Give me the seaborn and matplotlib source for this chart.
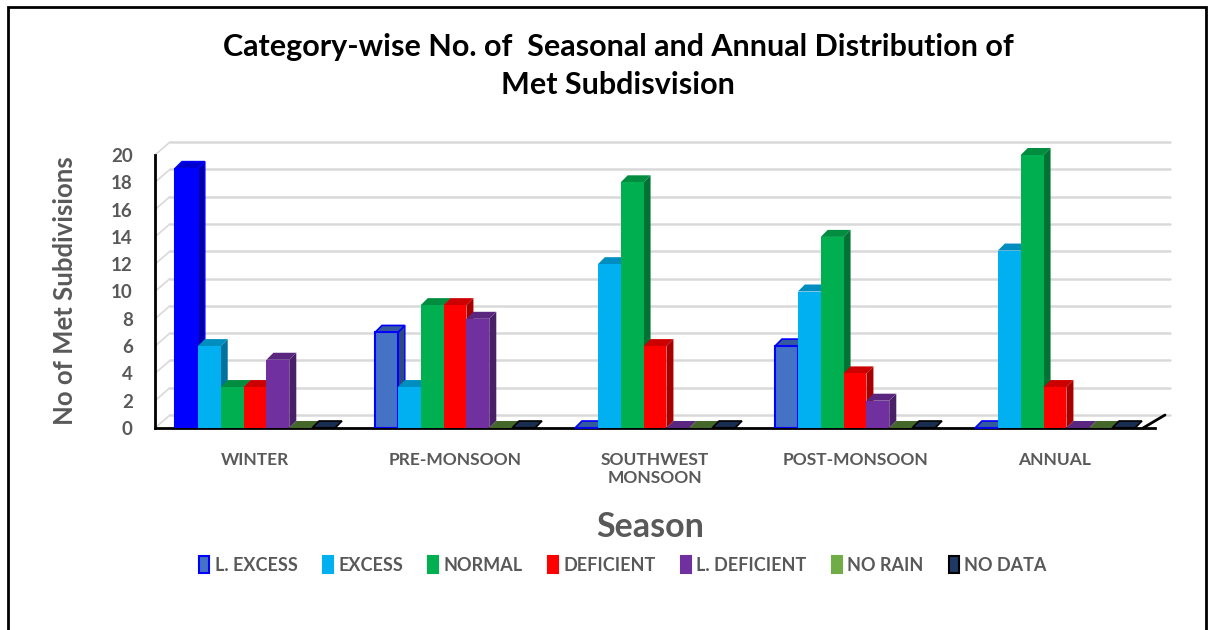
import numpy as np
import pandas as pd
import matplotlib
matplotlib.use("Agg")
import matplotlib.pyplot as plt
import matplotlib.transforms as mtransforms
from matplotlib.patches import Patch, Polygon, Rectangle
import seaborn as sns

# data
seasons = ["WINTER", "PRE-MONSOON", "SOUTHWEST\nMONSOON", "POST-MONSOON", "ANNUAL"]
categories = ["L. EXCESS", "EXCESS", "NORMAL", "DEFICIENT", "L. DEFICIENT", "NO RAIN", "NO DATA"]
l_excess = [19, 7, 0, 6, 0]
excess = [6, 3, 12, 10, 13]
normal = [3, 9, 18, 14, 20]
deficient = [3, 9, 6, 4, 3]
l_deficient = [5, 8, 0, 2, 0]
no_rain = [0, 0, 0, 0, 0]
no_data = [0, 0, 0, 0, 0]

colors = ["#4472C4", "#00B0F0", "#00B050", "#FF0000", "#7030A0", "#548235", "#1F3864"]
legend_colors = ["#4472C4", "#00B0F0", "#00B050", "#FF0000", "#7030A0", "#70AD47", "#1F3864"]
edge_colors = ["#0000FF", None, None, None, None, None, "#000000"]

values = [l_excess, excess, normal, deficient, l_deficient, no_rain, no_data]
rows = []
for cat, vals in zip(categories, values):
    for s, v in zip(seasons, vals):
        rows.append({"season": s, "category": cat, "count": v})
df = pd.DataFrame(rows)

sns.set_style("white")
plt.rcParams['font.family'] = ['Lato', 'DejaVu Sans']
GRAY = "#595959"

W, H = 1218, 630
fig = plt.figure(figsize=(W / 100, H / 100), dpi=100)
ax = fig.add_axes([155 / W, 1 - 428 / H, 1000 / W, 273 / H])

sns.barplot(data=df, x="season", y="count", hue="category", hue_order=categories,
            order=seasons, palette=colors, width=0.8, linewidth=0, ax=ax, legend=False)
ax.set_xlim(-0.5, 4.5)
ax.set_ylim(0, 20)
ax.set_yticks(range(0, 21, 2))

# pixel -> data sizes for the fake 3D depth
px_x = 1000 / 5.0
px_y = 273 / 20.0
dx, dy = 7 / px_x, 7 / px_y

def shade(c, f):
    r, g, b = matplotlib.colors.to_rgb(c)
    return (r * f, g * f, b * f)

for k, (cont, col) in enumerate(zip(ax.containers, colors)):
    for i, p in enumerate(cont.patches):
        fc = col
        if k == 0 and i == 0:
            fc = "#0000FF"
        p.set_facecolor(fc)
        p.set_zorder(3 + 2 * k + 1)
        if edge_colors[k]:
            p.set_edgecolor(edge_colors[k])
            p.set_linewidth(1.5)
        x0, w, h = p.get_x(), p.get_width(), p.get_height()
        x1 = x0 + w
        ec = edge_colors[k] if edge_colors[k] else "none"
        side = Polygon([(x1, 0), (x1, h), (x1 + dx, h + dy), (x1 + dx, dy)],
                       closed=True, facecolor=shade(fc, 0.65), edgecolor=ec,
                       linewidth=1 if edge_colors[k] else 0, zorder=3 + 2 * k, clip_on=False)
        top = Polygon([(x0, h), (x1, h), (x1 + dx, h + dy), (x0 + dx, h + dy)],
                      closed=True, facecolor=shade(fc, 0.8), edgecolor=ec,
                      linewidth=1.2 if edge_colors[k] else 0, zorder=3 + 2 * k, clip_on=False)
        if h > 0:
            ax.add_patch(side)
        ax.add_patch(top)

# back-wall gridlines shifted up/right
ax.grid(axis="y", color="#D9D9D9", linewidth=1.8)
ax.set_axisbelow(True)
shift = mtransforms.ScaledTranslation(15 / 100, 13 / 100, fig.dpi_scale_trans)
for gl in ax.get_ygridlines():
    gl.set_transform(gl.get_transform() + shift)
    gl.set_clip_on(False)
for v in range(0, 21, 2):
    ax.plot([-0.5, -0.5 + 15 / px_x], [v, v + 13 / px_y], color="#D9D9D9",
            linewidth=1.2, clip_on=False, zorder=1)
ax.plot([4.5 - 12 / px_x, 4.5 + 10 / px_x], [0, 13 / px_y], color="black",
        linewidth=2, clip_on=False, zorder=2)

for s in ["top", "right"]:
    ax.spines[s].set_visible(False)
for s in ["left", "bottom"]:
    ax.spines[s].set_color("black")
    ax.spines[s].set_linewidth(2)

ax.tick_params(axis="y", length=0, pad=16, labelsize=13.5, labelcolor=GRAY)
ax.tick_params(axis="x", length=0, pad=17, labelsize=12.5, labelcolor=GRAY)
for t in ax.get_yticklabels() + ax.get_xticklabels():
    t.set_fontweight("bold")
for t in ax.get_xticklabels():
    t.set_linespacing(1.2)

ax.set_xlabel("")
ax.set_ylabel("")
fig.text(65 / W, 1 - 291 / H, "No of Met Subdivisions", rotation=90, ha="center",
         va="center", fontsize=18.5, fontweight="bold", color=GRAY)
fig.text(650 / W, 1 - 527 / H, "Season", ha="center", va="center",
         fontsize=24.5, fontweight="bold", color=GRAY)
fig.text(618 / W, 1 - 66 / H,
         "Category-wise No. of  Seasonal and Annual Distribution of\nMet Subdisvision",
         ha="center", va="center", fontsize=22, fontweight="bold", color="black",
         linespacing=1.45)

handles = [Patch(facecolor=c, edgecolor=(e if e else c), linewidth=1.5)
           for c, e in zip(legend_colors, edge_colors)]
leg = fig.legend(handles, categories, loc="center", bbox_to_anchor=(623 / W, 1 - 565 / H),
                 ncol=7, frameon=False, handlelength=0.55, handleheight=1.0,
                 handletextpad=0.3, columnspacing=1.4, fontsize=13)
for t in leg.get_texts():
    t.set_color(GRAY)
    t.set_fontweight("bold")

fig.patches.append(Rectangle((8 / W, -0.05), 1198 / W, 1.05 - 7 / H, transform=fig.transFigure,
                             fill=False, edgecolor="black", linewidth=2))

fig.savefig("out.png", dpi=100)
